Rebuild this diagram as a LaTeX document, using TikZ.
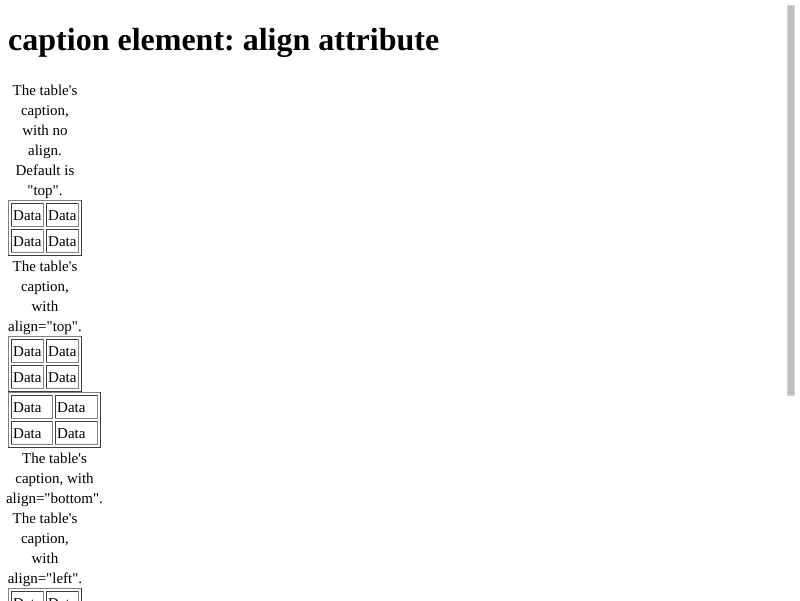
\documentclass[tikz,border=0pt]{standalone}
\usepackage{fontspec}
\setmainfont{Liberation Serif}[Ligatures=TeXOff]
\frenchspacing
\definecolor{bordgray}{HTML}{808080}
\definecolor{borddark}{HTML}{3C3C3C}
\definecolor{sbfill}{HTML}{C0C0C0}
\definecolor{sbedge}{HTML}{D4D4D4}
\tikzset{
  x=1pt, y=-1pt,
  outl/.style={draw=bordgray, line width=1pt, line cap=rect},
  outd/.style={draw=borddark, line width=1pt, line cap=rect},
  celld/.style={draw=borddark, line width=1pt, line cap=rect},
  celll/.style={draw=bordgray, line width=1pt, line cap=rect},
  body/.style={inner sep=0pt, font=\fontsize{15}{20}\selectfont\frenchspacing},
  capline/.style={body, anchor=base},
  datatext/.style={body, anchor=base west},
  titletext/.style={inner sep=0pt, anchor=base west, font=\fontsize{32}{37}\selectfont\bfseries\frenchspacing}
}
% cell borders: left, right, top, bottom pixel edges
\newcommand{\DCell}[4]{%
  \draw[celld] (#1+0.5,#4-0.5) -- (#1+0.5,#3+0.5) -- (#2-0.5,#3+0.5);
  \draw[celll] (#2-0.5,#3+0.5) -- (#2-0.5,#4-0.5) -- (#1+0.5,#4-0.5);
}
% table: #1 name, #2 top edge, #3 width col 1, #4 width col 2
\newcommand{\DTable}[4]{%
  \pgfmathsetmacro{\Ra}{11+#3}%
  \pgfmathsetmacro{\Lb}{\Ra+2}%
  \pgfmathsetmacro{\Rb}{\Lb+#4}%
  \pgfmathsetmacro{\Ro}{\Rb+3}%
  \pgfmathsetmacro{\Bo}{#2+56}%
  \draw[outl] (8.5,\Bo-0.5) -- (8.5,#2+0.5) -- (\Ro-0.5,#2+0.5);
  \draw[outd] (\Ro-0.5,#2+0.5) -- (\Ro-0.5,\Bo-0.5) -- (8.5,\Bo-0.5);
  \DCell{11}{\Ra}{#2+3}{#2+27}
  \DCell{\Lb}{\Rb}{#2+3}{#2+27}
  \DCell{11}{\Ra}{#2+29}{#2+53}
  \DCell{\Lb}{\Rb}{#2+29}{#2+53}
  \node[datatext] (#1a) at (13,#2+20) {Data};
  \node[datatext] (#1b) at (\Lb+2,#2+20) {Data};
  \node[datatext] (#1c) at (13,#2+46) {Data};
  \node[datatext] (#1d) at (\Lb+2,#2+46) {Data};
}
\begin{document}
\begin{tikzpicture}
\useasboundingbox (0,0) rectangle (800,600);
\clip (0,0) rectangle (800,600);
\fill[white] (0,0) rectangle (800,600);

% title
\node[titletext] (title) at (8,50) {caption element: align attribute};

% scrollbar
\draw[fill=sbfill, draw=sbedge, line width=0.6pt] (787.5,5.5) rectangle (794.5,395);

% caption 1 (no align)
\node[capline] (c1a) at (45,95) {The table's};
\node[capline] (c1b) at (45,115) {caption,};
\node[capline] (c1c) at (45,135) {with no};
\node[capline] (c1d) at (45,155) {align.};
\node[capline] (c1e) at (45,175) {Default is};
\node[capline] (c1f) at (45,195) {"top".};
\DTable{ta}{200}{33}{33}

% caption 2 (top)
\node[capline] (c2a) at (45,271) {The table's};
\node[capline] (c2b) at (45,291) {caption,};
\node[capline] (c2c) at (45,311) {with};
\node[capline] (c2d) at (45,331) {align="top".};
\DTable{tb}{336}{33}{33}

% table 3 with bottom caption
\DTable{tc}{392}{42}{43}
\node[capline] (c3a) at (54.5,463) {The table's};
\node[capline] (c3b) at (54.5,483) {caption, with};
\node[capline] (c3c) at (54.5,503) {align="bottom".};

% caption 4 (left)
\node[capline] (c4a) at (45,523) {The table's};
\node[capline] (c4b) at (45,543) {caption,};
\node[capline] (c4c) at (45,563) {with};
\node[capline] (c4d) at (45,583) {align="left".};
\DTable{td}{588}{33}{33}
\end{tikzpicture}
\end{document}
